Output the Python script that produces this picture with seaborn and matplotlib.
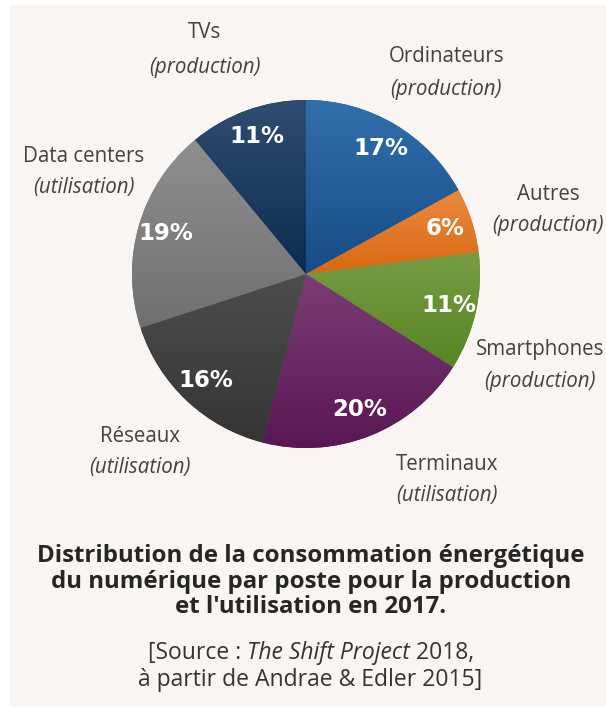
import numpy as np
import matplotlib
matplotlib.use("Agg")
import matplotlib.pyplot as plt
import seaborn as sns
from matplotlib.patches import Rectangle

# data
postes = ["Ordinateurs", "Autres", "Smartphones", "Terminaux", "Réseaux", "Data centers", "TVs"]
usage = ["(production)", "(production)", "(production)", "(utilisation)",
         "(utilisation)", "(utilisation)", "(production)"]
parts = [17, 6, 11, 20, 16, 19, 11]

# top / bottom shade of each slice (vertical gradient)
top_colors = ["#3170ab", "#ea8a40", "#789d45", "#7c3d74", "#4d4d4d", "#8f8f8f", "#2f4d70"]
bot_colors = ["#174c88", "#da6810", "#578522", "#591756", "#353535", "#707070", "#0b2c52"]

# label anchors in image pixels (name line, usage line)
label_pos = [(446, 57, 90), (548, 195, 225), (540, 350, 381), (447, 465, 496),
             (140, 437, 467), (84, 157, 188), (205, 33, 67)]

W, H = 606, 708
BG = "#f8f5f2"

sns.set_style("white")
plt.rcParams["font.family"] = ["Open Sans", "DejaVu Sans"]

fig = plt.figure(figsize=(W / 100, H / 100), dpi=100, facecolor="white")
ax = fig.add_axes([0, 0, 1, 1])
ax.set_axis_off()

def Y(y):
    return H - y

ax.add_patch(Rectangle((10, Y(705)), W - 10, 700, color=BG, zorder=0))

cx, cy, r = 306, 274, 174
wedges, _, pcts = ax.pie(parts, startangle=90, counterclock=False,
                         center=(cx, Y(cy)), radius=r,
                         colors=bot_colors, autopct=lambda p: f"{p:.0f}%",
                         pctdistance=0.84, wedgeprops=dict(linewidth=0),
                         textprops=dict(color="white", fontsize=16.5,
                                        fontweight="bold", family="DejaVu Sans"))

for w, c1, c2 in zip(wedges, top_colors, bot_colors):
    th = np.radians(np.linspace(w.theta1, w.theta2, 200))
    xs = np.r_[cx, cx + r * np.cos(th)]
    ys = np.r_[Y(cy), Y(cy) + r * np.sin(th)]
    cmap = sns.blend_palette([c1, c2], as_cmap=True)
    grad = np.linspace(0, 1, 256).reshape(-1, 1)
    im = ax.imshow(grad, cmap=cmap, origin="upper", aspect="auto",
                   extent=[xs.min(), xs.max(), ys.min(), ys.max()], zorder=1.5)
    im.set_clip_path(w)

for t in pcts:
    t.set_zorder(3)

ax.set_xlim(0, W)
ax.set_ylim(0, H)
ax.set_aspect("auto")

lab_col = "#424242"
for name, use, (x, y1, y2) in zip(postes, usage, label_pos):
    ax.text(x, Y(y1), name, ha="center", va="center", fontsize=14.8, color=lab_col)
    ax.text(x, Y(y2), use, ha="center", va="center", fontsize=14.8, color=lab_col,
            style="italic")

title_lines = ["Distribution de la consommation énergétique",
               "du numérique par poste pour la production",
               "et l'utilisation en 2017."]
for line, y in zip(title_lines, [556, 582, 607]):
    ax.text(311, Y(y), line, ha="center", va="center", fontsize=17.3,
            fontweight="bold", color="#262626")

# source line with mixed styles
fig.canvas.draw()
renderer = fig.canvas.get_renderer()

def mixed_line(parts_list, xc, y, size=16.5, color="#333333"):
    objs = []
    for txt, st in parts_list:
        objs.append(ax.text(0, Y(y), txt, ha="left", va="center", fontsize=size,
                            color=color, style=st))
    widths = []
    inv = ax.transData.inverted()
    for o in objs:
        bb = o.get_window_extent(renderer)
        x0 = inv.transform((bb.x0, 0))[0]
        x1 = inv.transform((bb.x1, 0))[0]
        widths.append(x1 - x0)
    x = xc - sum(widths) / 2
    for o, wd in zip(objs, widths):
        o.set_x(x)
        x += wd

mixed_line([("[Source : ", "normal"), ("The Shift Project", "italic"), (" 2018,", "normal")], 311, 653)
mixed_line([("à partir de Andrae & Edler 2015]", "normal")], 310, 680)

fig.savefig("out.png", dpi=100, facecolor="white")
